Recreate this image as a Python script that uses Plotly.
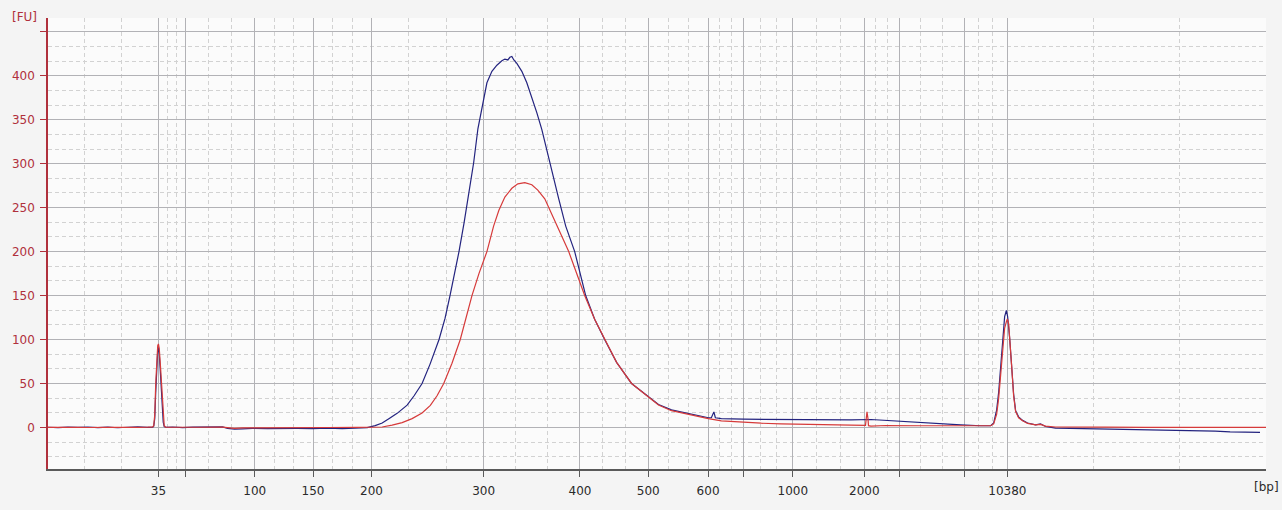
import plotly.graph_objects as go

# ---- axis definition (migration time in seconds, labelled with ladder sizes) ----
ladder_time = [51.07, 53.83, 60.73, 66.57, 72.43, 83.67, 93.33, 100.17, 106.17,
               109.73, 114.67, 121.83, 125.33, 131.83, 136.17]
ladder_bp = ["35", "", "100", "150", "200", "300", "400", "500", "600",
             "", "1000", "2000", "", "", "10380"]
time_range = [40.0, 162.1]
fu_range = [-47.3, 465.7]
fu_ticks = [0, 50, 100, 150, 200, 250, 300, 350, 400, 450]
fu_ticktext = ["0", "50", "100", "150", "200", "250", "300", "350", "400", ""]

# ---- sample 1 (blue) ----
blue_t = [40.0, 41.0, 42.0, 43.0, 44.0, 45.0, 46.0, 47.0, 48.0, 49.0, 50.0,
          50.5, 50.6, 50.7, 50.8, 50.9, 51.0, 51.07, 51.15, 51.25, 51.35, 51.45, 51.55, 51.65, 51.8,
          52.5, 53.5, 54.5, 55.5, 56.5, 57.5, 58.0, 58.7, 59.5, 60.5, 62.0, 63.5, 65.0, 66.5,
          68.0, 69.5, 71.0, 72.0, 72.8, 73.5, 74.17, 75.0, 76.0, 76.7, 77.5, 78.3, 79.2, 79.8,
          80.3, 80.8, 81.2, 81.7, 82.1, 82.67, 83.1, 83.67, 84.0, 84.5, 85.0, 85.5, 85.8, 86.1,
          86.3, 86.5, 86.7, 87.0, 87.3, 87.5, 88.0, 88.5, 89.0, 89.5, 90.3, 91.2, 91.9, 92.8,
          93.9, 94.8, 95.8, 97.0, 98.5, 100.17, 101.2, 102.5, 104.3, 105.5, 106.2, 106.5,
          106.65, 106.75, 106.9, 107.5, 109.7, 111.5, 113.5, 115.5, 117.5, 120.5, 122.5, 124.0,
          125.3, 127.5, 129.5, 131.5, 133.5, 134.5, 134.8, 135.1, 135.3, 135.5, 135.7, 135.9,
          136.07, 136.2, 136.4, 136.6, 136.8, 137.0, 137.3, 137.7, 138.2, 139.0, 139.5, 140.0,
          141.0, 142.5, 144.5, 146.5, 148.5, 150.5, 152.5, 153.8, 155.5, 157.0, 158.5, 160.0, 161.5]
blue_fu = [0.2, -0.3, 0.4, 0.0, 0.5, -0.2, 0.3, -0.4, 0.2, 0.6, 0.0,
           0.4, 1.5, 10, 40, 70, 88, 91, 84, 66, 42, 22, 6, 1, 0.2,
           0.5, -0.2, 0.4, 0.3, 0.8, 0.6, -1.0, -1.9, -1.6, -1.0, -1.3, -0.9, -1.2, -1.4,
           -0.9, -1.3, -0.8, -0.2, 2.0, 5, 10, 16, 25.3, 36, 50, 72, 100, 124,
           150, 176, 200, 232, 259, 301, 340, 376, 392, 405, 412, 417, 419, 418,
           421, 422, 418, 414, 409, 405, 392, 376, 358, 339, 301, 260, 229, 200,
           150, 123, 100, 74, 50, 35.5, 26, 20, 15.5, 12.5, 11, 11,
           16, 17.7, 11, 10, 9.4, 9.2, 9, 8.6, 8.8, 8.5, 9, 8,
           6.5, 5.5, 4.5, 3, 1.9, 2, 5, 20, 40, 70, 105, 126,
           133, 126, 102, 70, 38, 19, 12, 8, 5, 3, 4, 1,
           -0.8, -1.2, -1.5, -1.8, -2.2, -2.5, -2.8, -3, -3.6, -4.2, -5, -5.4, -5.7]

# ---- sample 2 (red) ----
red_t = [40.0, 41.0, 42.0, 43.0, 44.0, 45.0, 46.0, 47.0, 48.0, 49.0, 50.0,
         50.5, 50.6, 50.7, 50.8, 50.9, 51.0, 51.07, 51.15, 51.25, 51.35, 51.45, 51.55, 51.65, 51.8,
         52.5, 55.0, 57.5, 58.0, 58.7, 59.5, 62.0, 65.0, 68.0, 71.0, 73.5, 74.5, 75.5, 76.5,
         77.5, 78.33, 79.0, 79.67, 80.5, 81.33, 81.9, 82.5, 83.2, 84.0, 84.67, 85.2, 85.8, 86.5,
         87.1, 87.8, 88.5, 89.1, 89.8, 90.4, 91.0, 92.2, 93.0, 93.8, 94.8, 95.8, 97.0, 98.5,
         100.17, 101.2, 102.5, 104.3, 105.5, 106.2, 107.5, 109.7, 111.5, 113.5, 115.5, 117.5,
         120.5, 121.95, 122.0, 122.1, 122.2, 122.25, 122.5, 124.0, 127.5, 130.0, 133.0, 134.5,
         134.8, 135.1, 135.3, 135.5, 135.7, 135.9, 136.07, 136.17, 136.3, 136.4, 136.6, 136.8,
         137.0, 137.3, 137.7, 138.2, 139.0, 139.5, 140.0, 141.0, 143.0, 146.0, 150.0, 155.0,
         160.0, 162.1]
red_fu = [0.0, 0.3, -0.2, 0.2, -0.1, 0.3, 0.0, 0.2, -0.2, 0.1, 0.3,
          0.6, 2, 14, 50, 80, 93, 95, 90, 74, 52, 30, 10, 2, 0.3,
          0.1, 0.2, 0.3, -0.5, -1.2, -0.6, -0.2, 0.0, -0.1, 0.1, 0.5, 2.6, 5.5, 10,
          16.5, 25, 36, 50, 73, 100, 124, 150, 175, 200, 229, 247, 262, 272,
          277, 278.5, 276, 270, 260, 245, 229, 200, 175, 150, 123, 100, 74, 50,
          35, 25.5, 19, 14.5, 11.5, 10, 7.5, 5.7, 4.8, 4, 3.4, 3,
          2.6, 2.4, 10, 17.7, 10, 2, 1.5, 2.2, 1.9, 1.6, 2.0, 1.9,
          4, 15, 33, 60, 92, 113, 120, 123.5, 118, 104, 70, 36,
          18, 11, 7.5, 4.5, 2.8, 3.5, 1.5, 0.5, 0.2, 0.4, 0.1, 0.3,
          0.0, 0.0]

# minor (dashed) vertical grid: thirds between consecutive ladder positions
edges = [time_range[0]] + ladder_time + [time_range[1]]
minor_x = []
for a, b in zip(edges[:-1], edges[1:]):
    minor_x += [a + (b - a) / 3, a + 2 * (b - a) / 3]

axis_red = "#B0303C"
font = "DejaVu Sans"

fig = go.Figure()
fig.add_trace(go.Scatter(x=blue_t, y=blue_fu, mode="lines",
                         line=dict(color="#23237F", width=1.2), showlegend=False))
fig.add_trace(go.Scatter(x=red_t, y=red_fu, mode="lines",
                         line=dict(color="#D63A3A", width=1.2), showlegend=False))

fig.update_layout(
    width=1282, height=510,
    margin=dict(l=45, r=16, t=18, b=39),
    paper_bgcolor="#F4F4F4",
    plot_bgcolor="#FBFBFB",
    font=dict(family=font, size=12, color="#333333"),
    xaxis=dict(
        range=time_range, tickmode="array", tickvals=ladder_time, ticktext=ladder_bp,
        showgrid=True, gridcolor="#B2B2B6", gridwidth=1, zeroline=False,
        showline=True, linecolor="#5A5A5A", linewidth=1.5,
        ticks="outside", ticklen=6, tickcolor="#5A5A5A", ticklabelstandoff=4,
        tickfont=dict(family=font, size=12, color="#2A2A2A"),
        minor=dict(tickmode="array", tickvals=minor_x, showgrid=True,
                   gridcolor="#D2D2D2", griddash="4px,3px", gridwidth=1, ticks=""),
    ),
    yaxis=dict(
        range=fu_range, tickmode="array", tickvals=fu_ticks, ticktext=fu_ticktext,
        showgrid=True, gridcolor="#B2B2B6", gridwidth=1, zeroline=False,
        showline=True, linecolor=axis_red, linewidth=1.5,
        ticks="outside", ticklen=6, tickcolor=axis_red, ticklabelstandoff=3,
        tickfont=dict(family=font, size=12, color=axis_red),
        minor=dict(tick0=0, dtick=50 / 3, showgrid=True,
                   gridcolor="#D2D2D2", griddash="4px,3px", gridwidth=1, ticks=""),
    ),
    annotations=[
        dict(text="[FU]", xref="paper", yref="paper", x=0, y=1, xanchor="right",
             yanchor="middle", xshift=-9, yshift=1, showarrow=False,
             font=dict(family=font, size=12, color=axis_red)),
        dict(text="[bp]", xref="paper", yref="paper", x=1, y=0, xanchor="center",
             yanchor="middle", yshift=-18, showarrow=False,
             font=dict(family=font, size=12, color="#2A2A2A")),
    ],
)

fig.write_html("out.html",
               config={"displayModeBar": False},
               post_script="document.body.style.margin='0';document.body.style.overflow='hidden';")
